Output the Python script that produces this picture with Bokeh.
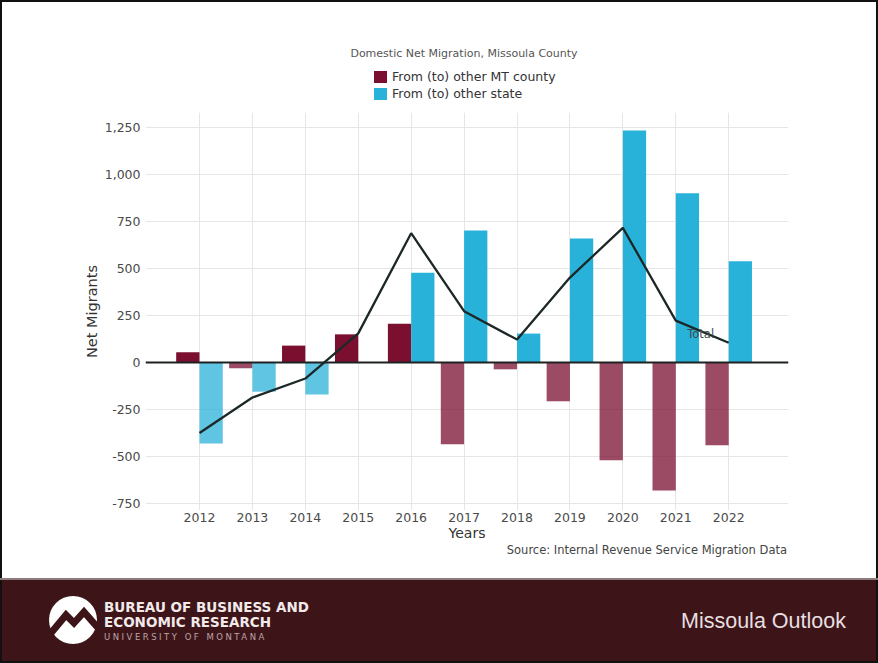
from bokeh.plotting import figure
from bokeh.models import (Range1d, FixedTicker, NumeralTickFormatter, Span,
                          Label, ColumnDataSource, Div)
from bokeh.layouts import column
from bokeh.transform import dodge
from bokeh.embed import file_html
from bokeh.resources import INLINE

# ---------------- data ----------------
years = [2012, 2013, 2014, 2015, 2016, 2017, 2018, 2019, 2020, 2021, 2022]
mt_county = [55, -30, 90, 150, 207, -435, -36, -206, -520, -680, -440]
other_state = [-430, -155, -170, 0, 478, 702, 154, 660, 1234, 900, 539]
total = [-375, -186, -85, 155, 688, 273, 122, 452, 716, 223, 105]
y_ticks = [-750, -500, -250, 0, 250, 500, 750, 1000, 1250]

title_text = "Domestic Net Migration, Missoula County"
series_labels = ["From (to) other MT county", "From (to) other state"]
source_text = "Source: Internal Revenue Service Migration Data"

MT_COLOR = "#7a0f2f"
ST_COLOR = "#29b2d9"
FONT = "DejaVu Sans"
BG = "#3d1519"

src = ColumnDataSource(dict(
    year=years, mt=mt_county, st=other_state, total=total,
    mt_alpha=[1.0 if v >= 0 else 0.75 for v in mt_county],
    st_alpha=[1.0 if v >= 0 else 0.75 for v in other_state],
))

# ---------------- header (title + legend) ----------------
header_html = f"""
<div style="position:relative;width:878px;height:104px;font-family:'{FONT}';">
  <div style="position:absolute;left:0;width:928px;top:47px;text-align:center;font-size:11px;
              line-height:14px;color:#555555;white-space:nowrap;">{title_text}</div>
  <div style="position:absolute;left:374px;top:71px;width:13px;height:12px;background:{MT_COLOR};"></div>
  <div style="position:absolute;left:392px;top:69px;font-size:12.5px;line-height:16px;color:#333333;
              white-space:nowrap;">{series_labels[0]}</div>
  <div style="position:absolute;left:374px;top:88px;width:13px;height:12px;background:{ST_COLOR};"></div>
  <div style="position:absolute;left:392px;top:86px;font-size:12.5px;line-height:16px;color:#333333;
              white-space:nowrap;">{series_labels[1]}</div>
</div>
"""
header = Div(text=header_html, width=878, height=104, margin=0)

# ---------------- chart ----------------
p = figure(width=878, height=442,
           x_range=Range1d(2010.98, 2023.13), y_range=Range1d(-787, 1330),
           output_backend="svg", toolbar_location=None, title_location=None,
           min_border_left=145, min_border_right=90,
           min_border_top=8, min_border_bottom=36)
p.outline_line_color = None
p.background_fill_color = "white"
p.border_fill_alpha = 0

for ax in (p.xaxis[0], p.yaxis[0]):
    ax.axis_line_color = None
    ax.major_tick_line_color = None
    ax.minor_tick_line_color = None
    ax.major_tick_out = 0
    ax.major_tick_in = 0
    ax.major_label_text_font = FONT
    ax.major_label_text_font_size = "12.5px"
    ax.major_label_text_color = "#4a4a4a"
    ax.axis_label_text_font = FONT
    ax.axis_label_text_font_style = "normal"
    ax.axis_label_text_color = "#333333"

p.xaxis.ticker = FixedTicker(ticks=years)
p.xaxis.formatter = NumeralTickFormatter(format="0")
p.xaxis.major_label_standoff = 2
p.xaxis.axis_label = "Years"
p.xaxis.axis_label_text_font_size = "14px"
p.xaxis.axis_label_standoff = 0

p.yaxis.ticker = FixedTicker(ticks=y_ticks)
p.yaxis.formatter = NumeralTickFormatter(format="0,0")
p.yaxis.major_label_standoff = 5
p.yaxis.axis_label = "Net Migrants"
p.yaxis.axis_label_text_font_size = "14.5px"
p.yaxis.axis_label_standoff = 2

p.xgrid.grid_line_color = "#e6e6e6"
p.ygrid.grid_line_color = "#e6e6e6"

p.vbar(x=dodge("year", -0.22), top="mt", bottom=0, width=0.44,
       fill_color=MT_COLOR, fill_alpha="mt_alpha", line_color=None, source=src)
p.vbar(x=dodge("year", 0.22), top="st", bottom=0, width=0.44,
       fill_color=ST_COLOR, fill_alpha="st_alpha", line_color=None, source=src)

p.add_layout(Span(location=0, dimension="width", line_color="#1f2222", line_width=2))
p.line("year", "total", source=src, line_color="#1c2828", line_width=2.3)

p.add_layout(Label(x=2021.47, y=154, text="Total", text_font=FONT, text_font_size="11.5px",
                   text_align="center", text_baseline="middle", text_color="#3a4a4a"))

# ---------------- source line ----------------
source_html = f"""
<div style="position:relative;width:878px;height:32px;font-family:'{FONT}';">
  <div style="position:absolute;right:91px;top:-3px;font-size:11.5px;line-height:14px;color:#444444;
              white-space:nowrap;">{source_text}</div>
</div>
"""
source_div = Div(text=source_html, width=878, height=32, margin=0)

# ---------------- footer ----------------
footer_html = f"""
<div style="position:relative;width:878px;height:85px;background:{BG};overflow:hidden;
            box-shadow: inset -2px 0 0 #111, inset 2px 0 0 #111, inset 0 -2px 0 #111;">
  <div style="position:absolute;left:0;top:0;width:878px;height:2px;background:#8c7c7e;"></div>
  <svg style="position:absolute;left:0;top:0" width="120" height="85">
    <circle cx="73" cy="42" r="24" fill="white"/>
    <polyline points="51,55 66,37 74,45 84,34 99,51" fill="none" stroke="{BG}"
              stroke-width="7" stroke-linejoin="miter"/>
  </svg>
  <div style="position:absolute;left:104px;top:21px;font-family:'DejaVu Sans';font-weight:bold;
              font-size:13.5px;line-height:16px;color:#f2eaea;white-space:nowrap;">BUREAU OF BUSINESS AND</div>
  <div style="position:absolute;left:104px;top:36px;font-family:'DejaVu Sans';font-weight:bold;
              font-size:13.5px;line-height:16px;color:#f2eaea;white-space:nowrap;">ECONOMIC RESEARCH</div>
  <div style="position:absolute;left:104px;top:54px;font-family:'DejaVu Sans';font-size:8.5px;
              line-height:10px;letter-spacing:2.5px;color:#bba4a7;white-space:nowrap;">UNIVERSITY OF MONTANA</div>
  <div style="position:absolute;left:681px;top:30px;font-family:'Liberation Sans';font-size:21.5px;
              line-height:26px;color:#e8dfe0;white-space:nowrap;">Missoula Outlook</div>
</div>
"""
footer = Div(text=footer_html, width=878, height=85, margin=0)

layout = column(header, p, source_div, footer, spacing=0,
                styles={"background": "white", "box-shadow": "inset 0 0 0 2px #111"})
open("out.html", "w").write(file_html(layout, INLINE))
